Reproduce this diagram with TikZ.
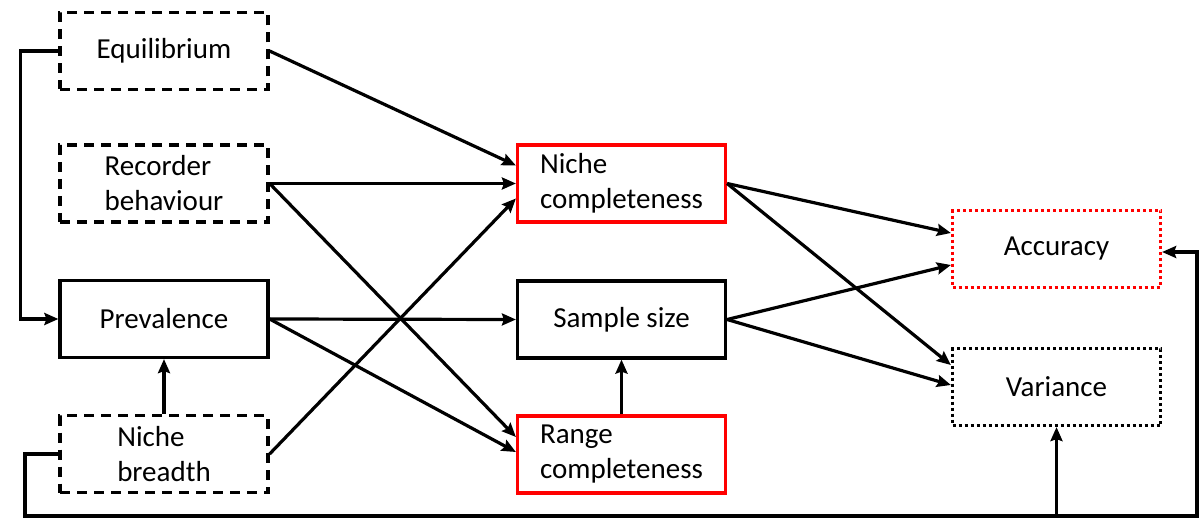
\documentclass[tikz,border=0pt]{standalone}
\usepackage{fontspec}
\setmainfont{Carlito}
\usetikzlibrary{arrows.meta}

\begin{document}
\begin{tikzpicture}[x=0.5pt,y=-0.5pt,
	box/.style={draw,line width=1.6pt,minimum width=104pt,minimum height=38.5pt,inner sep=0pt,
		align=left,font=\fontsize{14.5}{17.5}\selectfont},
	dashbox/.style={box,dash pattern=on 5pt off 3.5pt},
	dotbox/.style={box,dash pattern=on 1.5pt off 1.5pt},
	redbox/.style={box,draw=red}]
	\useasboundingbox (0,0) rectangle (1204,518);
	% ボックスの描画
	\node[dashbox] (equil) at (164,51) {Equilibrium};
	\node[dashbox] (recorder) at (164,183.5) {Recorder\\behaviour};
	\node[box] (prev) at (164,319) {Prevalence};
	\node[dashbox] (breadth) at (164,454) {Niche\\breadth};
	\node[redbox] (nichec) at (621.5,183.5) {Niche\\completeness};
	\node[box] (sample) at (621.5,319.5) {Sample size};
	\node[redbox] (range) at (621.5,454.5) {Range\\completeness};
	\node[dotbox,draw=red] (acc) at (1056.5,249) {Accuracy};
	\node[dotbox] (var) at (1056.5,387) {Variance};
	% 点の定義
	\coordinate (loopleft) at (25,516);
	\coordinate (loopright) at (1197,516);
	% 矢印の描画
	\begin{scope}[->,>={Stealth[length=7pt,width=6pt,inset=1pt]},line width=1.6pt]
		\draw (equil.east) -- ([yshift=9pt]nichec.west);
		\draw (recorder.east) -- (nichec.west);
		\draw (recorder.east) -- ([yshift=8.75pt]range.west);
		\draw (prev.east) -- (sample.west);
		\draw (prev.east) -- ([yshift=1.25pt]range.west);
		\draw (breadth.east) -- ([yshift=-7.5pt]nichec.west);
		\draw (breadth.north) -- (prev.south);
		\draw (range.north) -- (sample.south);
		\draw (nichec.east) -- ([yshift=8pt]acc.west);
		\draw (nichec.east) -- ([yshift=11pt]var.west);
		\draw (sample.east) -- ([yshift=-8pt]acc.west);
		\draw (sample.east) -- ([yshift=1pt]var.west);
		% 外側のループ
		\draw (equil.west) -- ++(-38,0) |- (prev.west);
		\draw (breadth.west) -| (loopleft) -- (loopright) |- ([yshift=-1.5pt]acc.east);
		\draw (var.south |- loopright) -- (var.south);
	\end{scope}
\end{tikzpicture}
\end{document}
